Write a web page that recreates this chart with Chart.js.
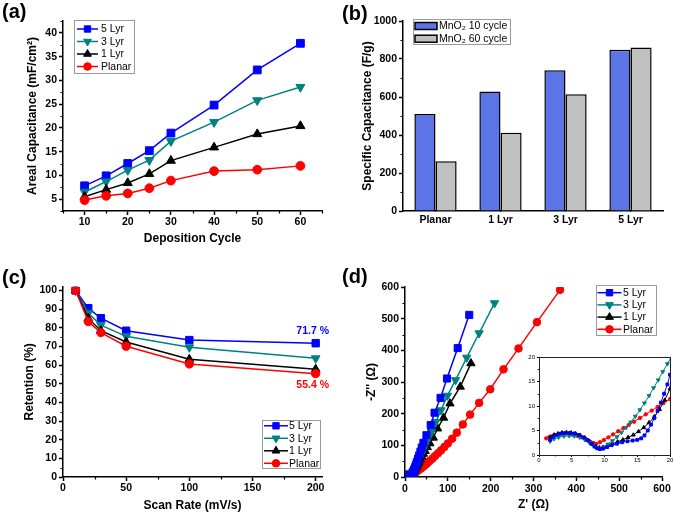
<!DOCTYPE html>
<html><head><meta charset="utf-8">
<script src="https://cdn.jsdelivr.net/npm/chart.js@4.4.1/dist/chart.umd.min.js"></script>
<style>
html,body{margin:0;padding:0;background:#fff;}
#wrap{position:relative;width:675px;height:515px;overflow:hidden;background:#fff;font-family:'Liberation Sans',Arial,sans-serif;}
canvas{position:absolute;}
.lbl{position:absolute;font-weight:bold;font-size:20px;line-height:20px;color:#000;}
</style></head><body>
<div id="wrap">
<canvas id="ca" width="335" height="255" style="left:0;top:0"></canvas>
<canvas id="cb" width="340" height="255" style="left:335px;top:0"></canvas>
<canvas id="cc" width="335" height="260" style="left:0;top:255px"></canvas>
<canvas id="cd" width="340" height="260" style="left:335px;top:255px"></canvas>
<canvas id="ci" width="155" height="115" style="left:520px;top:350px"></canvas>
<div class="lbl" style="left:2px;top:1px">(a)</div>
<div class="lbl" style="left:342px;top:3px">(b)</div>
<div class="lbl" style="left:2px;top:267px">(c)</div>
<div class="lbl" style="left:342px;top:266px">(d)</div>
</div>
<script>
// ---------- DATA ----------
const seriesNames = ['5 Lyr', '3 Lyr', '1 Lyr', 'Planar'];

// (a) Areal capacitance vs deposition cycle
const cyclesA = [10, 15, 20, 25, 30, 40, 50, 60];
const areal5 = [7.8, 9.9, 12.5, 15.2, 18.9, 24.8, 32.2, 37.8];
const areal3 = [6.5, 8.7, 11.1, 13.2, 17.2, 21.2, 25.8, 28.6];
const areal1 = [5.5, 7.0, 8.4, 10.3, 13.1, 15.9, 18.7, 20.4];
const arealP = [4.8, 5.7, 6.2, 7.3, 8.9, 10.9, 11.2, 12.0];
const xTicksA = [10, 20, 30, 40, 50, 60];
const yTicksA = [5, 10, 15, 20, 25, 30, 35, 40];

// (b) Specific capacitance
const samplesB = ['Planar', '1 Lyr', '3 Lyr', '5 Lyr'];
const barNames = ['MnO\u2082 10 cycle', 'MnO\u2082 60 cycle'];
const spec10 = [510, 629, 741, 849];
const spec60 = [262, 412, 614, 861];
const yTicksB = [0, 200, 400, 600, 800, 1000];

// (c) Retention vs scan rate
const scanRates = [10, 20, 30, 50, 100, 200];
const ret5 = [100, 90.5, 85.1, 78.4, 73.4, 71.7];
const ret3 = [100, 87.8, 81.4, 75.4, 69.5, 63.6];
const ret1 = [100, 85.0, 78.4, 72.4, 63.1, 57.8];
const retP = [100, 83.3, 77.4, 70.1, 60.6, 55.4];
const xTicksC = [0, 50, 100, 150, 200];
const yTicksC = [0, 10, 20, 30, 40, 50, 60, 70, 80, 90, 100];
const annotTexts = ['71.7 %', '55.4 %'];

// (d) Nyquist plot: Z' and -Z''
const zRe5 = [1.7,2.1,2.7,3.3,4.0,4.7,5.4,6.1,6.8,7.4,8.0,8.5,8.9,9.3,9.8,10.4,11.1,11.9,12.7,13.5,14.3,15.0,15.6,16.1,16.6,17.1,17.6,18.1,18.6,19.1,19.6,20.0,21,22.5,24,26,28,30.5,33,36,39,43,50,60,69,83,98,123,150];
const zIm5 = [3.1,3.7,4.1,4.35,4.5,4.5,4.4,4.1,3.6,3.0,2.3,1.7,1.35,1.2,1.3,1.6,2.0,2.3,2.6,2.8,2.95,3.1,3.4,4.0,5.0,6.2,7.5,9.0,10.7,12.5,14.4,16.4,20,26,32,40,48,58,68,80,93,108,132,164,203,250,311,407,512];
const zRe3 = [1.7,2.3,3.0,3.8,4.6,5.4,6.2,7.0,7.7,8.3,8.8,9.2,9.8,10.5,11.2,11.9,12.6,13.3,14.0,14.7,15.4,16.1,16.8,17.5,18.2,18.9,19.6,20.3,21.5,23,25,27,29.5,32,35,38.5,42,46,51,56,62,72,84,99,118,144,173,209];
const zIm3 = [2.8,3.3,3.6,3.85,3.9,3.85,3.6,3.1,2.5,1.9,1.5,1.35,1.6,2.2,2.9,3.7,4.6,5.6,6.7,7.9,9.2,10.6,12.1,13.7,15.3,17.0,18.6,20.3,23.5,27.5,33,39,46,54,63,74,85,98,113,127,143,174,211,257,306,377,454,549];
const zRe1 = [1.8,2.3,2.9,3.5,4.2,4.9,5.6,6.3,7.0,7.6,8.2,8.7,9.2,9.8,10.5,11.2,12.0,12.8,13.6,14.4,15.2,16.0,16.8,17.6,18.4,19.2,20.0,21,22.5,24,26,28,30.5,33,36,39.5,43,47,52,58,66,76,90,105,129,154];
const zIm1 = [3.7,4.1,4.35,4.55,4.6,4.55,4.35,4.0,3.5,2.9,2.2,1.7,1.5,1.6,1.95,2.3,2.7,3.1,3.6,4.1,4.8,5.6,6.6,7.8,9.3,11.2,13.5,16.5,20,24,29,34,40,47,55,64,73,82,94,106,124,153,187,232,285,359];
const zReP = [1.1,1.6,2.2,2.9,3.7,4.5,5.2,5.9,6.5,7.2,7.8,8.3,8.7,9.3,9.9,10.6,11.3,12.1,12.9,13.7,14.5,15.4,16.3,17.2,18.1,19.0,20.0,21.5,23,25,27,29.5,32,35,38,41.5,45,49,53,58,64,70,77,84,92,100,110,121,135,152,173,199,230,265,308,362];
const zImP = [3.4,3.7,3.95,4.15,4.3,4.3,4.15,3.9,3.6,3.2,2.75,2.45,2.25,2.6,3.05,3.6,4.2,4.85,5.5,6.15,6.8,7.55,8.3,9.05,9.8,10.6,11.4,12.6,13.8,15.5,17.3,19.5,22,25,28,31.5,35.5,40,45,51,58,66,75,84,95,106,121,140,166,197,234,277,340,406,489,591];
const ticksD = [0, 100, 200, 300, 400, 500, 600];
const ticksInset = [0, 5, 10, 15, 20];

// ---------- STYLE ----------
const FONT = "'Liberation Sans', Arial, Helvetica, sans-serif";
Chart.defaults.font.family = FONT;
Chart.defaults.color = '#000';
Chart.defaults.animation = false;
const colors = ['#0000FF', '#008080', '#000000', '#FF0000'];
const styles = ['rect', 'triangle', 'triangle', 'circle'];
const rots = [0, 180, 0, 0];

// ---------- PLUGINS ----------
const minorTicks = {
  id: 'minorTicks',
  afterDraw(chart, args, o) {
    const ctx = chart.ctx;
    ['x', 'y'].forEach(id => {
      const cfg = o && o[id];
      const s = chart.scales[id];
      if (!cfg || !s) return;
      const majors = s.ticks.map(t => t.value);
      ctx.save();
      ctx.strokeStyle = '#000';
      ctx.lineWidth = cfg.width || 1.2;
      ctx.beginPath();
      const start = Math.ceil((s.min - 1e-9) / cfg.step) * cfg.step;
      for (let v = start; v <= s.max + 1e-9; v += cfg.step) {
        if (majors.some(m => Math.abs(m - v) < 1e-6)) continue;
        const p = Math.round(s.getPixelForValue(v)) + 0.5;
        if (s.isHorizontal()) { ctx.moveTo(p, s.top); ctx.lineTo(p, s.top + cfg.len); }
        else { ctx.moveTo(s.right, p); ctx.lineTo(s.right - cfg.len, p); }
      }
      ctx.stroke();
      ctx.restore();
    });
  }
};

const legendBox = {
  id: 'legendBox',
  afterDraw(chart, args, o) {
    if (!o || !o.show) return;
    const ctx = chart.ctx;
    ctx.save();
    ctx.fillStyle = '#fff';
    ctx.fillRect(o.x, o.y, o.w, o.h);
    ctx.strokeStyle = o.border || '#9a9a9a';
    ctx.lineWidth = 1;
    ctx.strokeRect(Math.round(o.x) + 0.5, Math.round(o.y) + 0.5, Math.round(o.w), Math.round(o.h));
    ctx.font = o.font;
    ctx.textBaseline = 'middle';
    ctx.textAlign = 'left';
    chart.data.datasets.forEach((ds, i) => {
      const cy = o.y + o.first + i * o.rowH;
      const x0 = o.x + o.sx;
      if (o.kind === 'bar') {
        ctx.fillStyle = ds.backgroundColor;
        ctx.fillRect(x0, cy - o.sh / 2, o.sw, o.sh);
        ctx.strokeStyle = ds.borderColor;
        ctx.lineWidth = ds.borderWidth;
        ctx.strokeRect(x0, cy - o.sh / 2, o.sw, o.sh);
      } else {
        ctx.strokeStyle = ds.borderColor;
        ctx.lineWidth = ds.borderWidth;
        ctx.beginPath(); ctx.moveTo(x0, cy); ctx.lineTo(x0 + o.sw, cy); ctx.stroke();
        ctx.fillStyle = ds.pointBackgroundColor;
        ctx.strokeStyle = ds.pointBorderColor;
        ctx.lineWidth = 1;
        Chart.helpers.drawPoint(ctx, {pointStyle: ds.pointStyle, rotation: ds.pointRotation || 0,
          radius: o.pr ? o.pr[i] : ds.pointRadius, borderWidth: 1}, x0 + o.sw / 2, cy);
      }
      ctx.fillStyle = '#000';
      ctx.fillText(ds.label, o.x + o.tx, cy + 0.5);
    });
    ctx.restore();
  }
};

const annot = {
  id: 'annot',
  afterDatasetsDraw(chart, args, o) {
    if (!o || !o.items) return;
    const ctx = chart.ctx;
    ctx.save();
    ctx.font = o.font;
    ctx.textAlign = 'center';
    ctx.textBaseline = 'middle';
    o.items.forEach(it => {
      ctx.fillStyle = it.color;
      ctx.fillText(it.text, chart.scales.x.getPixelForValue(it.x) + it.dx, chart.scales.y.getPixelForValue(it.y) + it.dy);
    });
    ctx.restore();
  }
};

const frameBox = {
  id: 'frameBox',
  beforeDraw(chart, args, o) {
    if (!o || !o.show) return;
    const a = chart.chartArea;
    chart.ctx.save();
    chart.ctx.fillStyle = '#fff';
    chart.ctx.fillRect(a.left, a.top, a.right - a.left, a.bottom - a.top);
    chart.ctx.restore();
  },
  afterDraw(chart, args, o) {
    if (!o || !o.show) return;
    const a = chart.chartArea;
    const ctx = chart.ctx;
    ctx.save();
    ctx.strokeStyle = '#222';
    ctx.lineWidth = 1;
    ctx.strokeRect(Math.round(a.left) + 0.5, Math.round(a.top) + 0.5, Math.round(a.right - a.left), Math.round(a.bottom - a.top));
    ctx.restore();
  }
};

Chart.register(minorTicks, legendBox, annot, frameBox);

// ---------- HELPERS ----------
function axis(o) {
  const ax = {
    type: o.type || 'linear',
    afterFit: s => { if (o.w != null) s.width = o.w; if (o.h != null) s.height = o.h; },
    border: {display: true, color: '#000', width: o.bw || 1.5},
    grid: {display: true, drawOnChartArea: false, drawTicks: true, tickLength: o.tl != null ? o.tl : 4,
      tickWidth: o.bw || 1.5, tickColor: '#000', color: '#000', offset: false},
    ticks: {font: {size: o.fs || 10.5, weight: o.fw || 'bold'}, padding: o.pad != null ? o.pad : 2,
      autoSkip: false, maxRotation: 0, color: '#000'},
    title: o.title ? {display: true, text: o.title, color: '#000', font: {size: 12, weight: 'bold'}, padding: o.tp} : {display: false}
  };
  if (o.type !== 'category') ax.ticks.callback = v => String(v);
  if (o.min != null) ax.min = o.min;
  if (o.max != null) ax.max = o.max;
  if (o.ticksArr) ax.afterBuildTicks = s => { s.ticks = o.ticksArr.map(v => ({value: v})); };
  return ax;
}

function lineSets(xsList, ysList, radii, lw, topIsLast) {
  return seriesNames.map((name, i) => ({
    label: name,
    data: xsList[i].map((x, j) => ({x: x, y: ysList[i][j]})),
    borderColor: colors[i], backgroundColor: colors[i],
    pointBackgroundColor: colors[i], pointBorderColor: colors[i],
    pointStyle: styles[i], pointRotation: rots[i], pointRadius: radii[i], pointBorderWidth: 1,
    borderWidth: lw, tension: 0, fill: false,
    order: topIsLast ? 3 - i : i
  }));
}

const base = {responsive: false, animation: false, devicePixelRatio: 1,
  plugins: {legend: {display: false}, tooltip: {enabled: false}}};
const LFONT = '10.5px ' + FONT;

// ---------- (a) ----------
new Chart(document.getElementById('ca'), {
  type: 'line',
  data: {datasets: lineSets([cyclesA, cyclesA, cyclesA, cyclesA], [areal5, areal3, areal1, arealP], [5.5, 5.2, 5.2, 4.4], 1.5, true)},
  options: Object.assign({}, base, {
    layout: {padding: {top: 21, right: 13, left: 0, bottom: 0}},
    scales: {
      x: axis({min: 5, max: 65, ticksArr: xTicksA, h: 44, pad: 1, title: 'Deposition Cycle', tp: {top: 0, bottom: 8.8}}),
      y: axis({min: 2.5, max: 42.5, ticksArr: yTicksA, w: 63, pad: 2, title: 'Areal Capacitance (mF/cm\u00B2)', tp: {top: 25.8, bottom: 0}})
    },
    plugins: Object.assign({}, base.plugins, {
      minorTicks: {x: {step: 5, len: 2.5}, y: {step: 2.5, len: 2.5}},
      legendBox: {show: true, x: 74, y: 20, w: 60, h: 53, first: 9, rowH: 12.5, sx: 3, sw: 21, tx: 27,
        font: LFONT, pr: [4.5, 4.5, 4.5, 3.8]}
    })
  })
});

// ---------- (b) ----------
new Chart(document.getElementById('cb'), {
  type: 'bar',
  data: {
    labels: samplesB,
    datasets: [
      {label: barNames[0], data: spec10, backgroundColor: '#5B74E6', borderColor: '#000', borderWidth: 1.5,
       categoryPercentage: 0.65, barPercentage: 1.0},
      {label: barNames[1], data: spec60, backgroundColor: '#C0C0C0', borderColor: '#000', borderWidth: 1.5,
       categoryPercentage: 0.65, barPercentage: 1.0}
    ]
  },
  options: Object.assign({}, base, {
    layout: {padding: {top: 21, right: 12, left: 0, bottom: 0}},
    scales: {
      x: Object.assign(axis({type: 'category', h: 44, pad: 3, tl: 0}), {offset: true}),
      y: axis({min: 0, max: 1000, ticksArr: yTicksB, w: 68, pad: 2, title: 'Specific Capacitance (F/g)', tp: {top: 25.1, bottom: 0}})
    },
    plugins: Object.assign({}, base.plugins, {
      minorTicks: {y: {step: 100, len: 2.5}},
      legendBox: {show: true, kind: 'bar', x: 78, y: 19, w: 97, h: 25, first: 7, rowH: 12.7, sx: 2, sw: 22, sh: 7, tx: 26,
        font: '10.5px ' + FONT}
    })
  })
});

// ---------- (c) ----------
new Chart(document.getElementById('cc'), {
  type: 'line',
  data: {datasets: lineSets([scanRates, scanRates, scanRates, scanRates], [ret5, ret3, ret1, retP], [5.2, 5, 5, 4.2], 1.5, true)},
  options: Object.assign({}, base, {
    layout: {padding: {top: 31.7, right: 13, left: 0, bottom: 0}},
    scales: {
      x: axis({min: 0, max: 205, ticksArr: xTicksC, h: 38, pad: 1, title: 'Scan Rate (mV/s)', tp: {top: 0, bottom: 2.1}}),
      y: axis({min: 0, max: 102, ticksArr: yTicksC, w: 63, pad: 2, title: 'Retention (%)', tp: {top: 22.8, bottom: 0}})
    },
    plugins: Object.assign({}, base.plugins, {
      minorTicks: {x: {step: 25, len: 2.5}, y: {step: 5, len: 2.5}},
      legendBox: {show: true, x: 262, y: 165, w: 58, h: 48, first: 5.8, rowH: 12.5, sx: 2, sw: 24, tx: 27,
        font: LFONT, pr: [4.5, 4.5, 4.5, 3.8]},
      annot: {font: 'bold 10.5px ' + FONT, items: [
        {x: scanRates[5], y: ret5[5], text: annotTexts[0], color: '#0000FF', dx: -3, dy: -12},
        {x: scanRates[5], y: retP[5], text: annotTexts[1], color: '#FF0000', dx: -3, dy: 11}
      ]}
    })
  })
});

// ---------- (d) ----------
new Chart(document.getElementById('cd'), {
  type: 'line',
  data: {datasets: lineSets([zRe5, zRe3, zRe1, zReP], [zIm5, zIm3, zIm1, zImP], [5, 4.8, 4.8, 3.8], 1.5, false)},
  options: Object.assign({}, base, {
    layout: {padding: {top: 32, right: 13, left: 0, bottom: 0}},
    scales: {
      x: axis({min: 0, max: 600, ticksArr: ticksD, h: 38, pad: 2, title: "Z' (\u03A9)", tp: {top: 0, bottom: 2.8}}),
      y: axis({min: 0, max: 600, ticksArr: ticksD, w: 70, pad: 2, title: "-Z'' (\u03A9)", tp: {top: 29.5, bottom: 0}})
    },
    plugins: Object.assign({}, base.plugins, {
      minorTicks: {x: {step: 50, len: 2.5}, y: {step: 50, len: 2.5}},
      legendBox: {show: true, x: 261, y: 30, w: 60, h: 50, first: 7.7, rowH: 12.2, sx: 1.5, sw: 24, tx: 27,
        font: LFONT, pr: [4.5, 4.5, 4.5, 3.8]}
    })
  })
});

// ---------- (d) inset ----------
new Chart(document.getElementById('ci'), {
  type: 'line',
  data: {datasets: lineSets([zRe5, zRe3, zRe1, zReP], [zIm5, zIm3, zIm1, zImP], [2, 2.2, 2.2, 1.7], 1, false)},
  options: Object.assign({}, base, {
    layout: {padding: {top: 7, right: 5, left: 0, bottom: 0}},
    scales: {
      x: axis({min: 0, max: 20, ticksArr: ticksInset, h: 10, pad: 0, tl: 2, bw: 1, fs: 6, fw: 'normal'}),
      y: axis({min: 0, max: 20, ticksArr: ticksInset, w: 19, pad: 2, tl: 2, bw: 1, fs: 6, fw: 'normal'})
    },
    plugins: Object.assign({}, base.plugins, {
      frameBox: {show: true},
      minorTicks: {x: {step: 2.5, len: 1.5, width: 0.8}, y: {step: 2.5, len: 1.5, width: 0.8}}
    })
  })
});
</script>
</body></html>
